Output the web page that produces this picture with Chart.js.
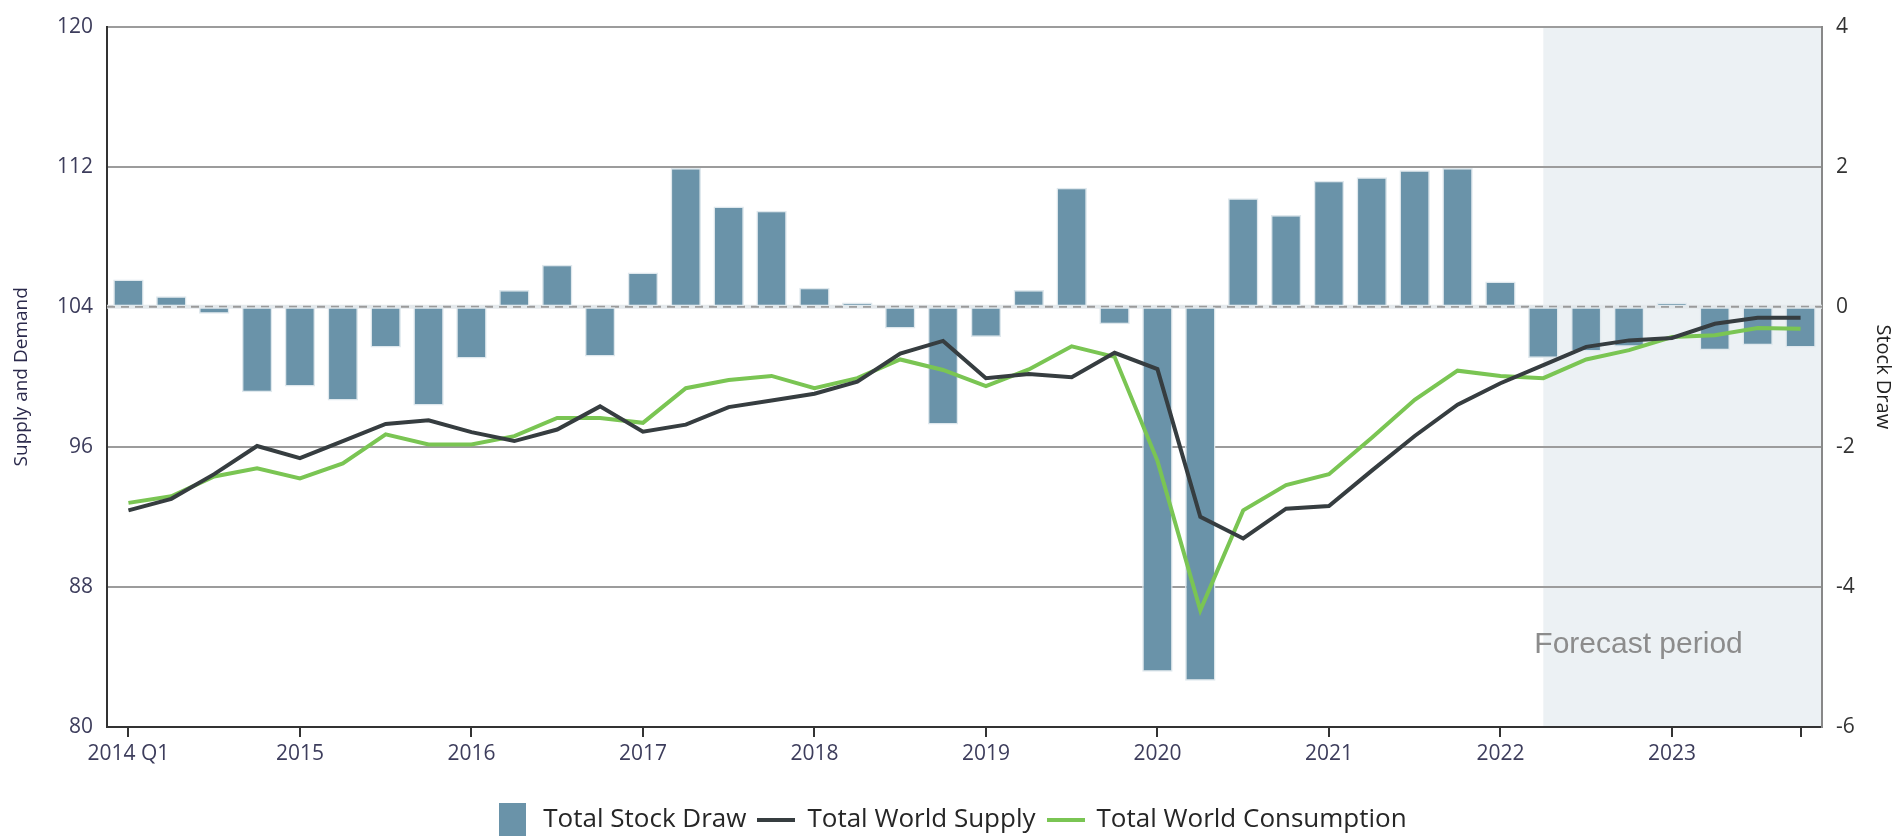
<!DOCTYPE html>
<html>
<head>
<meta charset="utf-8">
<script src="https://cdn.jsdelivr.net/npm/chart.js@4.4.1/dist/chart.umd.min.js"></script>
<style>
  html, body { margin: 0; padding: 0; background: #fff; }
  #wrap { width: 1901px; height: 836px; }
</style>
</head>
<body>
<div id="wrap"><canvas id="chart"></canvas></div>
<script>
const quarters = [
  '2014 Q1', '2014 Q2', '2014 Q3', '2014 Q4',
  '2015 Q1', '2015 Q2', '2015 Q3', '2015 Q4',
  '2016 Q1', '2016 Q2', '2016 Q3', '2016 Q4',
  '2017 Q1', '2017 Q2', '2017 Q3', '2017 Q4',
  '2018 Q1', '2018 Q2', '2018 Q3', '2018 Q4',
  '2019 Q1', '2019 Q2', '2019 Q3', '2019 Q4',
  '2020 Q1', '2020 Q2', '2020 Q3', '2020 Q4',
  '2021 Q1', '2021 Q2', '2021 Q3', '2021 Q4',
  '2022 Q1', '2022 Q2', '2022 Q3', '2022 Q4',
  '2023 Q1', '2023 Q2', '2023 Q3', '2023 Q4'
];

// right axis, million b/d
const stockDraw = [
  0.39, 0.15, -0.10, -1.22,
  -1.14, -1.34, -0.58, -1.41,
  -0.74, 0.24, 0.60, -0.71,
  0.49, 1.98, 1.43, 1.37,
  0.27, 0.06, -0.31, -1.68,
  -0.43, 0.24, 1.70, -0.25,
  -5.21, -5.34, 1.55, 1.31,
  1.80, 1.85, 1.95, 1.98,
  0.36, -0.73, -0.64, -0.57,
  0.06, -0.62, -0.55, -0.58
];

// left axis
const worldSupply = [
  92.37, 93.03, 94.44, 96.05,
  95.35, 96.33, 97.31, 97.52,
  96.84, 96.33, 96.99, 98.31,
  96.86, 97.27, 98.27, 98.65,
  99.03, 99.72, 101.33, 102.05,
  99.92, 100.16, 99.97, 101.37,
  100.44, 92.00, 90.77, 92.47,
  92.62, 94.64, 96.62, 98.41,
  99.63, 100.67, 101.71, 102.08,
  102.22, 103.03, 103.37, 103.37
];

const worldConsumption = [
  92.80, 93.18, 94.31, 94.77,
  94.20, 95.05, 96.71, 96.14,
  96.14, 96.61, 97.65, 97.65,
  97.37, 99.35, 99.82, 100.05,
  99.35, 99.92, 100.99, 100.39,
  99.47, 100.42, 101.74, 101.14,
  95.20, 86.66, 92.37, 93.82,
  94.44, 96.52, 98.69, 100.35,
  100.05, 99.92, 100.99, 101.52,
  102.27, 102.37, 102.78, 102.74
];

const leftTicks = [80, 88, 96, 104, 112, 120];
const rightTicks = [-6, -4, -2, 0, 2, 4];
const forecastStart = '2022 Q2';

const barColor = '#6a93a9';
const supplyColor = '#363d40';
const consColor = '#7ac553';

Chart.defaults.font.family = "'Open Sans', sans-serif";

function mark(w, h, color) {
  const c = document.createElement('canvas');
  c.width = w; c.height = h;
  const g = c.getContext('2d');
  g.fillStyle = color;
  g.fillRect(0, 0, w, h);
  return c;
}
// one legend marker per dataset index
const legendMarks = [mark(27, 34, barColor), mark(38, 4, supplyColor), mark(38, 4, consColor)];

// shaded forecast block + label, under the grid
const forecastShade = {
  id: 'forecastShade',
  beforeDraw(chart) {
    const { ctx, chartArea, scales } = chart;
    const x0 = scales.x.getPixelForValue(quarters.indexOf(forecastStart));
    ctx.save();
    ctx.fillStyle = '#ecf1f4';
    ctx.fillRect(x0, chartArea.top, chartArea.right - x0, chartArea.bottom - chartArea.top);
    ctx.font = '30px "Liberation Sans", Arial, sans-serif';
    ctx.fillStyle = '#8c8c8c';
    ctx.textBaseline = 'alphabetic';
    ctx.fillText('Forecast period', x0 - 9, scales.y.getPixelForValue(84.2));
    ctx.restore();
  }
};

// dashed zero line of the stock draw axis
const zeroLine = {
  id: 'zeroLine',
  beforeDatasetsDraw(chart) {
    const { ctx, chartArea, scales } = chart;
    const y = scales.y1.getPixelForValue(0);
    ctx.save();
    ctx.strokeStyle = '#e4e9ec';
    ctx.lineWidth = 4;
    ctx.beginPath();
    ctx.moveTo(chartArea.left, y);
    ctx.lineTo(chartArea.right, y);
    ctx.stroke();
    ctx.strokeStyle = '#9a9a9a';
    ctx.lineWidth = 2;
    ctx.setLineDash([8, 6]);
    ctx.beginPath();
    ctx.moveTo(chartArea.left, y);
    ctx.lineTo(chartArea.right, y);
    ctx.stroke();
    ctx.restore();
  }
};

new Chart(document.getElementById('chart'), {
  data: {
    labels: quarters,
    datasets: [
      {
        type: 'bar',
        label: 'Total Stock Draw',
        data: stockDraw,
        yAxisID: 'y1',
        backgroundColor: barColor,
        borderColor: '#dfe8ed',
        borderWidth: 1.5,
        borderSkipped: false,
        barPercentage: 0.71,
        categoryPercentage: 1,
        order: 3
      },
      {
        type: 'line',
        label: 'Total World Supply',
        data: worldSupply,
        yAxisID: 'y',
        borderColor: supplyColor,
        backgroundColor: supplyColor,
        borderWidth: 4,
        pointRadius: 0,
        tension: 0,
        order: 1
      },
      {
        type: 'line',
        label: 'Total World Consumption',
        data: worldConsumption,
        yAxisID: 'y',
        borderColor: consColor,
        backgroundColor: consColor,
        borderWidth: 4,
        pointRadius: 0,
        tension: 0,
        order: 2
      }
    ]
  },
  options: {
    responsive: true,
    maintainAspectRatio: false,
    animation: false,
    events: [],
    layout: { padding: { top: 20, bottom: -7, left: 0, right: 0 } },
    scales: {
      x: {
        offset: true,
        grid: {
          offset: false,
          drawOnChartArea: false,
          drawTicks: true,
          tickLength: 10,
          lineWidth: 2,
          color: c => (c.index % 4 === 0 || c.index === quarters.length - 1) ? '#333' : 'rgba(0,0,0,0)'
        },
        border: { color: '#333', width: 2 },
        ticks: {
          autoSkip: false,
          maxRotation: 0,
          padding: 4,
          color: '#3d3d5c',
          font: { size: 21 },
          callback: (v, i) => i % 4 === 0 ? (i === 0 ? quarters[0] : quarters[i].slice(0, 4)) : ''
        },
        afterFit: s => { s.height = 68; }
      },
      y: {
        position: 'left',
        min: leftTicks[0],
        max: leftTicks[leftTicks.length - 1],
        ticks: { stepSize: leftTicks[1] - leftTicks[0], padding: 14, color: '#3d3d5c', font: { size: 21 } },
        grid: {
          drawTicks: false,
          lineWidth: 2,
          color: c => c.tick.value === 104 ? 'rgba(0,0,0,0)' : '#9c9c9c'
        },
        border: { color: '#333', width: 2 },
        title: {
          display: true,
          text: 'Supply and Demand',
          color: '#2b2a4c',
          font: { size: 19 },
          padding: { top: 10, bottom: 0 }
        },
        afterFit: s => { s.width = 107; }
      },
      y1: {
        position: 'right',
        min: rightTicks[0],
        max: rightTicks[rightTicks.length - 1],
        ticks: { stepSize: rightTicks[1] - rightTicks[0], padding: 14, color: '#333', font: { size: 21 } },
        grid: { drawOnChartArea: false, drawTicks: false },
        border: { color: '#888', width: 2 },
        title: {
          display: true,
          text: 'Stock Draw',
          color: '#222',
          font: { size: 20 },
          padding: { top: 6, bottom: 0 }
        },
        afterFit: s => { s.width = 79; }
      }
    },
    plugins: {
      tooltip: { enabled: false },
      legend: {
        position: 'bottom',
        labels: {
          usePointStyle: true,
          pointStyleWidth: 36,
          padding: 12,
          color: '#262626',
          font: { size: 26 },
          generateLabels: chart => Chart.defaults.plugins.legend.labels.generateLabels(chart)
            .map(l => Object.assign(l, { pointStyle: legendMarks[l.datasetIndex] })),
          sort: (a, b) => a.datasetIndex - b.datasetIndex
        }
      }
    }
  },
  plugins: [forecastShade, zeroLine]
});
</script>
</body>
</html>
